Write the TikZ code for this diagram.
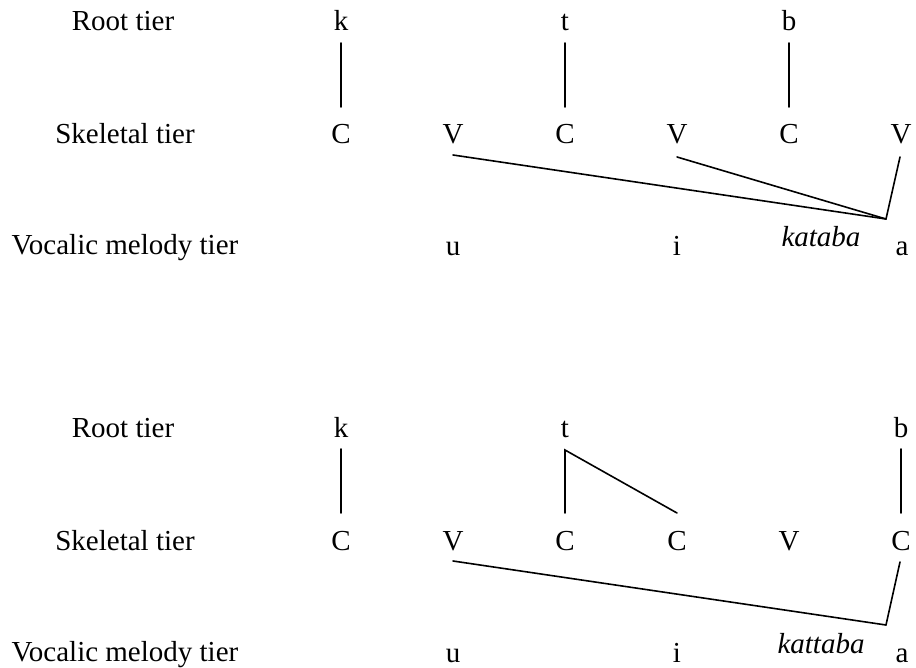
\documentclass[tikz,border=0pt]{standalone}
\usepackage{fontspec}
\setmainfont{Liberation Serif}
\begin{document}
\begin{tikzpicture}[x=1pt,y=-1pt,
  txt/.style={inner sep=0pt, anchor=base, font=\fontsize{29}{35}\selectfont},
  ital/.style={txt, font=\fontsize{29}{35}\selectfont\itshape},
  assoc/.style={line width=1.6pt, line cap=round}]
\useasboundingbox (0,0) rectangle (916,668);

% ---------- top diagram: kataba ----------
\node[txt] (rlA) at (123,31) {Root tier};
\node[txt] (slA) at (125,144) {Skeletal tier};
\node[txt] (vlA) at (125,255) {Vocalic melody tier};

\node[txt] (kA) at (341,31) {k};
\node[txt] (tA) at (565,31) {t};
\node[txt] (bA) at (789,31) {b};

\node[txt] (sA1) at (341,144) {C};
\node[txt] (sA2) at (453,144) {V};
\node[txt] (sA3) at (565,144) {C};
\node[txt] (sA4) at (677,144) {V};
\node[txt] (sA5) at (789,144) {C};
\node[txt] (sA6) at (901,144) {V};

\node[txt] (uA) at (453,256) {u};
\node[txt] (iA) at (677,256) {i};
\node[txt] (aA) at (902,256) {a};
\node[ital] (wA) at (821,247) {kataba};

\coordinate (mA) at (886,219);

\draw[assoc] ([yshift=-12pt]kA.base) -- ([yshift=37pt]sA1.base);
\draw[assoc] ([yshift=-12pt]tA.base) -- ([yshift=37pt]sA3.base);
\draw[assoc] ([yshift=-12pt]bA.base) -- ([yshift=37pt]sA5.base);
\draw[assoc] ([yshift=-11pt]sA2.base) -- (mA);
\draw[assoc] ([yshift=-13pt]sA4.base) -- (mA);
\draw[assoc] ([xshift=-1pt,yshift=-13pt]sA6.base) -- (mA);

% ---------- bottom diagram: kattaba ----------
\node[txt] (rlB) at (123,437) {Root tier};
\node[txt] (slB) at (125,550) {Skeletal tier};
\node[txt] (vlB) at (125,661) {Vocalic melody tier};

\node[txt] (kB) at (341,437) {k};
\node[txt] (tB) at (565,437) {t};
\node[txt] (bB) at (901,437) {b};

\node[txt] (sB1) at (341,550) {C};
\node[txt] (sB2) at (453,550) {V};
\node[txt] (sB3) at (565,550) {C};
\node[txt] (sB4) at (677,550) {C};
\node[txt] (sB5) at (789,550) {V};
\node[txt] (sB6) at (901,550) {C};

\node[txt] (uB) at (453,662) {u};
\node[txt] (iB) at (677,662) {i};
\node[txt] (aB) at (902,662) {a};
\node[ital] (wB) at (821,653) {kattaba};

\coordinate (mB) at (886,625);

\draw[assoc] ([yshift=-12pt]kB.base) -- ([yshift=37pt]sB1.base);
\draw[assoc] ([yshift=37pt]sB3.base) -- ([yshift=-13pt]tB.base) -- ([yshift=37pt]sB4.base);
\draw[assoc] ([yshift=-12pt]bB.base) -- ([yshift=37pt]sB6.base);
\draw[assoc] ([yshift=-11pt]sB2.base) -- (mB);
\draw[assoc] ([xshift=-1pt,yshift=-12pt]sB6.base) -- (mB);
\end{tikzpicture}
\end{document}
